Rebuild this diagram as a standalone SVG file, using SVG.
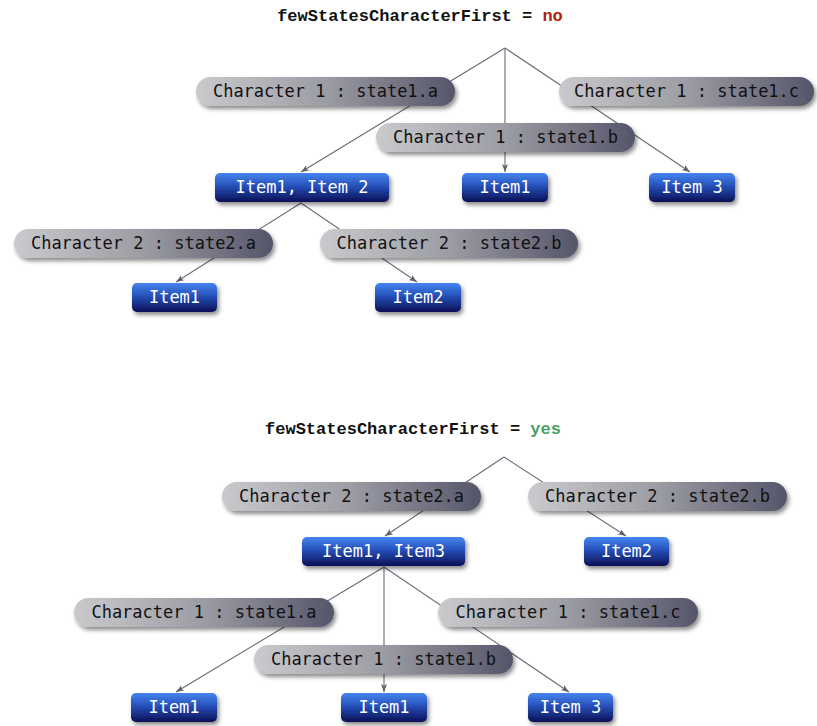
<svg xmlns="http://www.w3.org/2000/svg" width="817" height="726" viewBox="0 0 817 726">
<defs>
<linearGradient id="pillGrad" x1="0" y1="0" x2="1" y2="0">
<stop offset="0" stop-color="#cacacd"/>
<stop offset="0.5" stop-color="#9c9ca4"/>
<stop offset="1" stop-color="#55556a"/>
</linearGradient>
<linearGradient id="itemGrad" x1="0" y1="0" x2="0" y2="1">
<stop offset="0" stop-color="#4585f0"/>
<stop offset="0.45" stop-color="#2650b8"/>
<stop offset="1" stop-color="#0a0f55"/>
</linearGradient>
<filter id="shadow" x="-10%" y="-30%" width="125%" height="170%">
<feDropShadow dx="2" dy="3" stdDeviation="2" flood-color="#000" flood-opacity="0.45"/>
</filter>
<marker id="arrow" markerWidth="9" markerHeight="7" refX="8" refY="3" orient="auto" markerUnits="userSpaceOnUse">
<path d="M0,0 L8,3 L0,6 L2,3 z" fill="#5e5e6c"/>
</marker>
</defs>
<style>
.title{font-family:"Liberation Mono","Courier New",monospace;font-weight:bold;font-size:17px;fill:#111;}
.no{fill:#b02010;}
.yes{fill:#4aa060;}
.edge{stroke:#6a6a78;stroke-width:1.1;fill:none;marker-end:url(#arrow);}
.root{stroke:#6a6a78;stroke-width:1.1;fill:none;}
.pill rect{fill:url(#pillGrad);filter:url(#shadow);}
.pill text{font-family:"DejaVu Sans Mono",monospace;font-size:17px;fill:#111;text-anchor:middle;}
.item rect{fill:url(#itemGrad);filter:url(#shadow);}
.item text{font-family:"DejaVu Sans Mono",monospace;font-size:17px;fill:#fff;text-anchor:middle;}
</style>
<rect width="817" height="726" fill="#fff"/>

<text class="title" x="420" y="21" text-anchor="middle">fewStatesCharacterFirst = <tspan class="no">no</tspan></text>
<text class="title" x="413" y="434" text-anchor="middle">fewStatesCharacterFirst = <tspan class="yes">yes</tspan></text>

<g id="connectors">
<line class="edge" x1="505" y1="48" x2="301" y2="172"/>
<line class="edge" x1="505" y1="48" x2="505" y2="172"/>
<line class="edge" x1="505" y1="48" x2="690" y2="172"/>
<line class="edge" x1="301" y1="203" x2="176" y2="282"/>
<line class="edge" x1="301" y1="203" x2="417" y2="282"/>
<line class="edge" x1="504" y1="457" x2="385" y2="536"/>
<line class="edge" x1="504" y1="457" x2="626" y2="536"/>
<line class="edge" x1="384" y1="567" x2="176" y2="692"/>
<line class="edge" x1="384" y1="567" x2="384" y2="692"/>
<line class="edge" x1="384" y1="567" x2="569" y2="692"/>
</g>

<!-- top tree labels -->
<g id="t_c1a" class="pill"><rect x="196" y="77" width="259" height="29" rx="14.5"/><text x="325.5" y="97">Character 1 : state1.a</text></g>
<g id="t_c1c" class="pill"><rect x="559" y="77" width="255" height="29" rx="14.5"/><text x="686.5" y="97">Character 1 : state1.c</text></g>
<g id="t_c1b" class="pill"><rect x="376" y="123" width="259" height="29" rx="14.5"/><text x="505.5" y="143">Character 1 : state1.b</text></g>

<g id="t_item12" class="item"><rect x="215" y="173" width="174" height="29" rx="5"/><text x="302" y="193">Item1, Item 2</text></g>
<g id="t_item1" class="item"><rect x="462" y="173" width="86" height="29" rx="5"/><text x="505" y="193">Item1</text></g>
<g id="t_item3" class="item"><rect x="649" y="173" width="86" height="29" rx="5"/><text x="692" y="193">Item 3</text></g>

<g id="t_c2a" class="pill"><rect x="14" y="229" width="259" height="29" rx="14.5"/><text x="143.5" y="249">Character 2 : state2.a</text></g>
<g id="t_c2b" class="pill"><rect x="320" y="229" width="258" height="29" rx="14.5"/><text x="449" y="249">Character 2 : state2.b</text></g>

<g id="t_item1b" class="item"><rect x="132" y="283" width="85" height="29" rx="5"/><text x="174.5" y="303">Item1</text></g>
<g id="t_item2" class="item"><rect x="375" y="283" width="86" height="29" rx="5"/><text x="418" y="303">Item2</text></g>

<!-- bottom tree labels -->
<g id="b_c2a" class="pill"><rect x="222" y="482" width="259" height="29" rx="14.5"/><text x="351.5" y="502">Character 2 : state2.a</text></g>
<g id="b_c2b" class="pill"><rect x="528" y="482" width="259" height="29" rx="14.5"/><text x="657.5" y="502">Character 2 : state2.b</text></g>

<g id="b_item13" class="item"><rect x="302" y="537" width="163" height="29" rx="5"/><text x="383.5" y="557">Item1, Item3</text></g>
<g id="b_item2" class="item"><rect x="584" y="537" width="85" height="29" rx="5"/><text x="626.5" y="557">Item2</text></g>

<g id="b_c1a" class="pill"><rect x="74" y="598" width="260" height="29" rx="14.5"/><text x="204" y="618">Character 1 : state1.a</text></g>
<g id="b_c1c" class="pill"><rect x="438" y="598" width="260" height="29" rx="14.5"/><text x="568" y="618">Character 1 : state1.c</text></g>
<g id="b_c1b" class="pill"><rect x="254" y="645" width="259" height="29" rx="14.5"/><text x="383.5" y="665">Character 1 : state1.b</text></g>

<g id="b_item1a" class="item"><rect x="131" y="693" width="86" height="29" rx="5"/><text x="174" y="713">Item1</text></g>
<g id="b_item1b" class="item"><rect x="341" y="693" width="86" height="29" rx="5"/><text x="384" y="713">Item1</text></g>
<g id="b_item3" class="item"><rect x="528" y="693" width="85" height="29" rx="5"/><text x="570.5" y="713">Item 3</text></g>
</svg>
